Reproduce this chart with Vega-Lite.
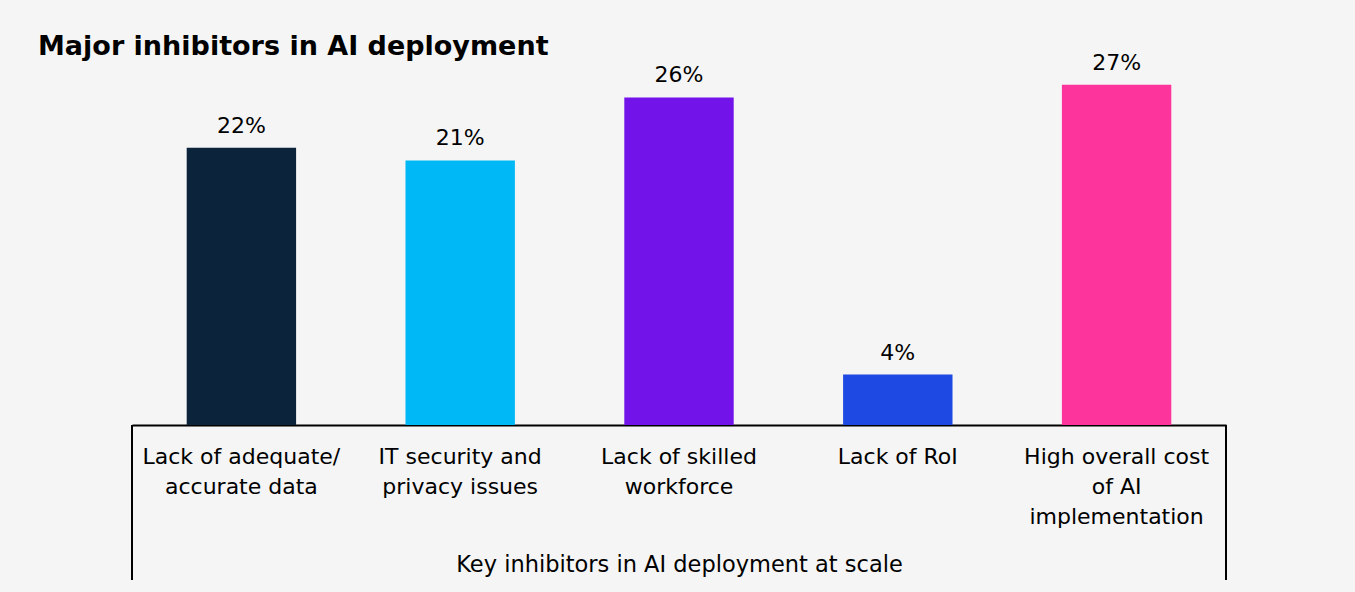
{
  "$schema": "https://vega.github.io/schema/vega-lite/v6.json",
  "width": 1094,
  "height": 378,
  "autosize": {"type": "none"},
  "padding": {"left": 132, "top": 47, "right": 129, "bottom": 167},
  "background": "#f5f5f5",
  "config": {"view": {"stroke": null}, "font": "DejaVu Sans"},
  "title": {
    "text": "Major inhibitors in AI deployment",
    "anchor": "start",
    "frame": "group",
    "font": "DejaVu Sans",
    "fontSize": 27,
    "fontWeight": "bold",
    "color": "#000000",
    "dx": -94,
    "dy": 18
  },
  "layer": [
    {
      "data": {
        "values": [
          {"category": "Lack of adequate/|accurate data", "value": 0.22},
          {"category": "IT security and|privacy issues", "value": 0.21},
          {"category": "Lack of skilled|workforce", "value": 0.26},
          {"category": "Lack of RoI", "value": 0.04},
          {"category": "High overall cost|of AI|implementation", "value": 0.27}
        ]
      },
      "encoding": {
        "x": {
          "field": "category",
          "type": "nominal",
          "sort": null,
          "scale": {"paddingInner": 0.5, "paddingOuter": 0.25},
          "axis": {
            "title": "Key inhibitors in AI deployment at scale",
            "titleFont": "DejaVu Sans",
            "titleFontSize": 22.5,
            "titleFontWeight": "normal",
            "titleColor": "#000000",
            "titlePadding": 26,
            "labelFont": "DejaVu Sans",
            "labelExpr": "split(datum.value, '|')",
            "labelAngle": 0,
            "labelFontSize": 22,
            "labelColor": "#000000",
            "labelLineHeight": 30,
            "labelPadding": 21,
            "labelLimit": 300,
            "ticks": false,
            "domainColor": "#000000",
            "domainWidth": 2,
            "grid": false
          }
        },
        "y": {
          "field": "value",
          "type": "quantitative",
          "scale": {"domain": [0, 0.3]},
          "axis": null
        }
      },
      "layer": [
        {
          "mark": {"type": "bar"},
          "encoding": {
            "color": {
              "field": "category",
              "type": "nominal",
              "sort": null,
              "scale": {
                "domain": ["Lack of adequate/|accurate data", "IT security and|privacy issues", "Lack of skilled|workforce", "Lack of RoI", "High overall cost|of AI|implementation"],
                "range": ["#0c233c", "#00b8f5", "#7213ea", "#1e49e2", "#fd349c"]
              },
              "legend": null
            }
          }
        },
        {
          "mark": {"type": "text", "baseline": "alphabetic", "dy": -15, "fontSize": 22, "font": "DejaVu Sans", "color": "#000000"},
          "encoding": {
            "text": {"field": "value", "type": "quantitative", "format": ".0%"}
          }
        }
      ]
    },
    {
      "data": {"values": [{"edge": 0, "top": 0, "bottom": -0.123}, {"edge": 1, "top": 0, "bottom": -0.123}]},
      "mark": {"type": "rule", "strokeWidth": 2, "color": "#000000"},
      "encoding": {
        "x": {"field": "edge", "type": "quantitative", "scale": {"domain": [0, 1], "nice": false, "zero": false}, "axis": null},
        "y": {"field": "top", "type": "quantitative", "scale": {"domain": [0, 0.3]}, "axis": null},
        "y2": {"field": "bottom"}
      }
    }
  ],
  "resolve": {"scale": {"x": "independent"}}
}
